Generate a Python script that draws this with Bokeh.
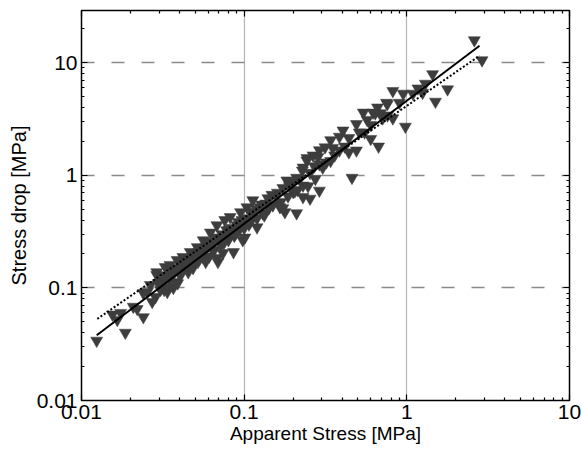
from bokeh.plotting import figure
from bokeh.models import LogAxis, FixedTicker, PrintfTickFormatter, Range1d
from bokeh.embed import file_html
from bokeh.resources import INLINE

# Apparent stress [MPa] and stress drop [MPa]
apparent_stress = [
    0.0124, 0.0155, 0.0166, 0.0186, 0.0174, 0.0208, 0.022, 0.024, 0.024, 0.0254,
    0.0265, 0.0285, 0.029, 0.0314, 0.0337, 0.035, 0.0367, 0.039, 0.0306, 0.0272,
    0.0417, 0.044, 0.0485, 0.056, 0.059, 0.068, 0.069, 0.079, 0.086, 0.098, 0.101,
    0.029, 0.0327, 0.035, 0.0387, 0.042, 0.0466, 0.0515, 0.056, 0.062, 0.068,
    0.076, 0.082, 0.095, 0.104,
    0.0306, 0.0322, 0.034, 0.034, 0.0377, 0.038, 0.0405, 0.041, 0.0447, 0.0453,
    0.048, 0.0485, 0.052, 0.0525, 0.056, 0.058, 0.060, 0.061, 0.0645, 0.0655,
    0.071, 0.072, 0.074, 0.078, 0.080, 0.084, 0.087, 0.092, 0.093, 0.097, 0.100,
    0.109, 0.109, 0.113, 0.119, 0.120, 0.120, 0.128, 0.130, 0.140, 0.142,
    0.148, 0.150, 0.160, 0.166, 0.173, 0.173, 0.178, 0.183, 0.186, 0.197, 0.200,
    0.210, 0.210, 0.213, 0.228, 0.230, 0.230, 0.243, 0.247, 0.254, 0.265, 0.270,
    0.274, 0.284, 0.290, 0.304, 0.314, 0.340, 0.340, 0.350, 0.385, 0.385, 0.405,
    0.440, 0.440, 0.490, 0.490, 0.460, 0.540, 0.550, 0.570, 0.600, 0.620, 0.640,
    0.670, 0.690, 0.660, 0.750, 0.760, 0.820, 0.820, 0.900, 0.950, 0.980, 1.09,
    1.17, 1.25, 1.30, 1.44, 1.50, 1.78, 2.60, 2.90,
    0.290, 0.243, 0.230, 0.760,
    0.0296, 0.0327, 0.0362, 0.039, 0.044, 0.0466, 0.0505, 0.054, 0.058, 0.0625,
    0.067, 0.073, 0.081, 0.090, 0.102, 0.115, 0.125, 0.136, 0.157, 0.190, 0.220,
    0.254, 0.290, 0.360, 0.415, 0.510, 0.600, 0.710,
    0.045, 0.053, 0.064, 0.075, 0.088, 0.107, 0.133, 0.168, 0.205, 0.32,
]
stress_drop = [
    0.034, 0.058, 0.052, 0.040, 0.060, 0.068, 0.065, 0.055, 0.090, 0.092,
    0.106, 0.083, 0.130, 0.110, 0.092, 0.118, 0.100, 0.110, 0.096, 0.075,
    0.150, 0.184, 0.150, 0.188, 0.226, 0.184, 0.170, 0.277, 0.208, 0.265, 0.280,
    0.138, 0.153, 0.160, 0.177, 0.188, 0.208, 0.230, 0.265, 0.310, 0.360,
    0.400, 0.425, 0.470, 0.520,
    0.117, 0.096, 0.128, 0.102, 0.144, 0.113, 0.128, 0.160, 0.170, 0.138,
    0.184, 0.160, 0.170, 0.208, 0.217, 0.170, 0.240, 0.190, 0.255, 0.217,
    0.280, 0.240, 0.204, 0.325, 0.265, 0.340, 0.290, 0.385, 0.325, 0.400, 0.340,
    0.470, 0.385, 0.600, 0.500, 0.415, 0.345, 0.550, 0.460, 0.625, 0.510,
    0.670, 0.540, 0.700, 0.520, 0.770, 0.510, 0.470, 0.900, 0.650, 0.870, 0.710,
    0.460, 0.950, 0.740, 1.10, 0.640, 0.810, 1.35, 0.800, 0.620, 1.50, 1.20,
    0.930, 1.45, 0.730, 1.17, 1.77, 2.05, 1.34, 1.75, 2.20, 1.66, 2.50,
    2.14, 1.60, 2.85, 1.66, 0.950, 3.60, 2.40, 3.10, 2.10, 3.60, 3.55,
    1.80, 3.55, 4.00, 4.40, 3.40, 3.20, 5.60, 4.40, 5.30, 2.70, 5.30,
    5.90, 5.40, 6.50, 7.90, 4.50, 5.80, 15.8, 10.5,
    1.67, 1.42, 1.17, 4.30,
    0.110, 0.128, 0.138, 0.150, 0.166, 0.177, 0.196, 0.217, 0.230, 0.255,
    0.277, 0.300, 0.330, 0.360, 0.415, 0.470, 0.520, 0.560, 0.650, 0.800, 0.930,
    1.05, 1.25, 1.50, 1.80, 2.40, 2.80, 3.20,
    0.155, 0.180, 0.215, 0.250, 0.300, 0.365, 0.440, 0.580, 0.720, 1.30,
]

# Fitted lines (end points)
fit_solid_x = [0.0124, 2.8]
fit_solid_y = [0.038, 14.1]
fit_dotted_x = [0.0125, 2.8]
fit_dotted_y = [0.053, 11.5]

# Axis ticks
major_ticks = [0.01, 0.1, 1, 10]
minor_ticks = [m * d for d in [0.01, 0.1, 1, 10] for m in range(2, 10)]

FONT = "Liberation Sans"

p = figure(width=581, height=451, x_axis_type="log", y_axis_type="log",
           x_range=Range1d(0.01, 10), y_range=Range1d(0.01, 29),
           output_backend="svg", toolbar_location=None,
           min_border_left=81, min_border_right=12,
           min_border_top=10, min_border_bottom=51)
p.background_fill_color = "white"
p.border_fill_color = "white"
p.outline_line_color = "black"
p.outline_line_width = 1.5

p.scatter(apparent_stress, stress_drop, marker="inverted_triangle", size=12,
          fill_color="#3d3d3d", line_color="#3d3d3d", line_width=0.5)
p.line(fit_solid_x, fit_solid_y, line_color="black", line_width=2)
p.line(fit_dotted_x, fit_dotted_y, line_color="black", line_width=2,
       line_dash="2 2")

ticker = FixedTicker(ticks=major_ticks, minor_ticks=minor_ticks)

def style(ax, labels=True):
    ax.ticker = ticker
    ax.axis_line_color = None
    ax.major_tick_in = 6
    ax.major_tick_out = 0
    ax.minor_tick_in = 3
    ax.minor_tick_out = 0
    ax.major_tick_line_color = "black"
    ax.minor_tick_line_color = "black"
    ax.major_tick_line_width = 1.2
    ax.minor_tick_line_width = 1.2
    ax.formatter = PrintfTickFormatter(format="%g")
    if labels:
        ax.major_label_text_font = FONT
        ax.major_label_text_font_size = "21px"
        ax.major_label_text_color = "black"
        ax.major_label_standoff = 4
        ax.axis_label_text_font = FONT
        ax.axis_label_text_font_size = "19px"
        ax.axis_label_text_font_style = "normal"
        ax.axis_label_text_color = "black"
    else:
        ax.major_label_text_font_size = "1px"
        ax.major_label_text_alpha = 0
        ax.major_label_standoff = 0

xa = p.xaxis[0]
ya = p.yaxis[0]
style(xa)
style(ya)
xa.axis_label = "Apparent Stress [MPa]"
ya.axis_label = "Stress drop [MPa]"
ya.axis_label_text_font_size = "20px"
xa.axis_label_standoff = 1
ya.axis_label_standoff = 4

top = LogAxis()
right = LogAxis()
style(top, labels=False)
style(right, labels=False)
p.add_layout(top, "above")
p.add_layout(right, "right")

p.xgrid.ticker = FixedTicker(ticks=major_ticks)
p.ygrid.ticker = FixedTicker(ticks=major_ticks)
p.xgrid.grid_line_color = "#6a6a6a"
p.xgrid.grid_line_dash = "1 1"
p.xgrid.grid_line_width = 1.2
p.ygrid.grid_line_color = "#8a8a8a"
p.ygrid.grid_line_dash = "13 17"
p.ygrid.grid_line_width = 1.5

open("out.html", "w").write(file_html(p, INLINE))
